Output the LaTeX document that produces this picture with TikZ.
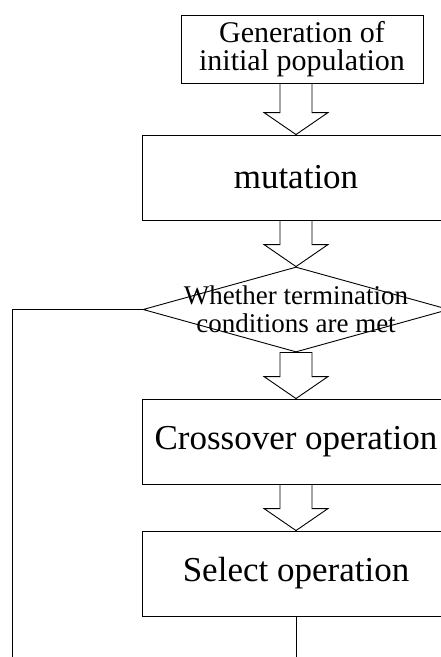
\documentclass[tikz,border=0pt]{standalone}
\usepackage{fontspec}
\setmainfont{Liberation Serif}
\usetikzlibrary{shapes.geometric,calc}

\tikzset{
  stepbox/.style={rectangle, draw, line width=0.9pt, minimum width=308pt, minimum height=85pt, inner sep=0pt, font=\fontsize{35}{38}\selectfont},
  decision/.style={diamond, draw, line width=0.9pt, minimum width=306pt, minimum height=85pt, inner sep=0pt},
  flowline/.style={line width=0.9pt},
}
% hollow block arrow from the bottom of #1 to the top of #2
\newcommand{\bigarrow}[2]{%
  \draw[flowline, fill=white] (#2.north) -- ++(-32,-22) -- ++(16,0) coordinate (shaftl)
    -- (shaftl |- #1.south) -- ++(32,0) -- ($(#2.north)+(16,-22)$) -- ++(16,0) -- cycle;}

\begin{document}
\begin{tikzpicture}[x=1pt, y=-1pt]
    \path[use as bounding box] (0,0) rectangle (441,657);
    \node[stepbox, minimum width=242pt, minimum height=68pt, align=center,
          font=\fontsize{30}{28}\selectfont] (init) at (302,49) {Generation of\\initial population};
    \node[stepbox] (mutate) at (296,177.5) {mutation};
    \node[decision] (cond) at (296,309.5) {};
    \node[align=center, font=\fontsize{27}{28}\selectfont, inner sep=0pt] (condtext) at (cond) {Whether termination\\conditions are met};
    \node[stepbox] (cross) at (296,441.5) {Crossover operation};
    \node[stepbox] (select) at (296,573.5) {Select operation};
    \coordinate (loopend) at (12,657);
    \coordinate (selout) at (296,657);

    % block arrows between the steps
    \bigarrow{init}{mutate}
    \bigarrow{mutate}{cond}
    \bigarrow{cond}{cross}
    \bigarrow{cross}{select}
    % loop back line and exit
    \draw[flowline] (cond.west) -| (loopend);
    \draw[flowline] (select.south) -- (selout);

    \end{tikzpicture}
\end{document}
